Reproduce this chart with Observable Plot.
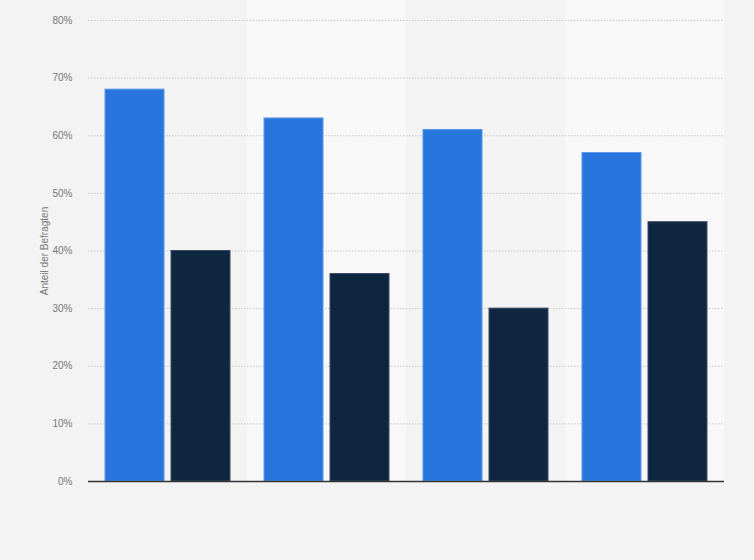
<!DOCTYPE html>
<html>
<head>
<meta charset="utf-8">
<script src="https://cdn.jsdelivr.net/npm/d3@7"></script>
<script src="https://cdn.jsdelivr.net/npm/@observablehq/plot@0.6"></script>
<style>
  html, body { margin: 0; padding: 0; background: #f3f3f3; }
  #chart { width: 754px; height: 560px; }
  svg { font-family: "Liberation Sans", Arial, sans-serif; }
</style>
</head>
<body>
<div id="chart"></div>
<script>
const categories = ["Gruppe 1", "Gruppe 2", "Gruppe 3", "Gruppe 4"];
const seriesNames = ["Serie A", "Serie B"];
const seriesA = [68, 63, 61, 57];
const seriesB = [40, 36, 30, 45];
const yTicks = [0, 10, 20, 30, 40, 50, 60, 70, 80];
const colors = ["#2876dd", "#0f2640"];
const strokes = ["#5b97e6", "#3a4d63"];
const bandFills = ["#f3f3f3", "#f8f8f8"];

const data = [];
categories.forEach((c, i) => {
  data.push({category: c, series: seriesNames[0], value: seriesA[i]});
  data.push({category: c, series: seriesNames[1], value: seriesB[i]});
});
const bands = categories.map((c, i) => ({category: c, fill: bandFills[i % 2]}));

const chart = Plot.plot({
  width: 754,
  height: 560,
  marginLeft: 88,
  marginRight: 30,
  marginTop: 20,
  marginBottom: 79,
  style: {background: "#f3f3f3", fontSize: "10px", fontFamily: "'Liberation Sans', Arial, sans-serif"},
  fx: {domain: categories, padding: 0, axis: null},
  x: {domain: seriesNames, paddingInner: 0.1, paddingOuter: 0.25, axis: null},
  y: {domain: [0, 80], ticks: yTicks, axis: null},
  color: {domain: seriesNames, range: colors},
  marks: [
    Plot.rectY(bands, {fx: "category", y1: 0, y2: 80, fill: "fill", insetTop: -20}),
    Plot.gridY(yTicks, {stroke: "#c8c8c8", strokeOpacity: 1, strokeDasharray: "1.5,1.5", strokeWidth: 1}),
    Plot.axisY(yTicks, {
      anchor: "left", tickSize: 0, tickPadding: 16,
      tickFormat: d => d + "%", fill: "#777", fontSize: 10,
      label: "Anteil der Befragten", labelAnchor: "center", labelArrow: "none", labelOffset: 48
    }),
    Plot.barY(data, {fx: "category", x: "series", y: "value", fill: "series",
      stroke: d => strokes[seriesNames.indexOf(d.series)], strokeWidth: 1}),
    Plot.ruleY([0], {stroke: "#333", strokeWidth: 1.3})
  ]
});
document.getElementById("chart").appendChild(chart);
</script>
</body>
</html>
